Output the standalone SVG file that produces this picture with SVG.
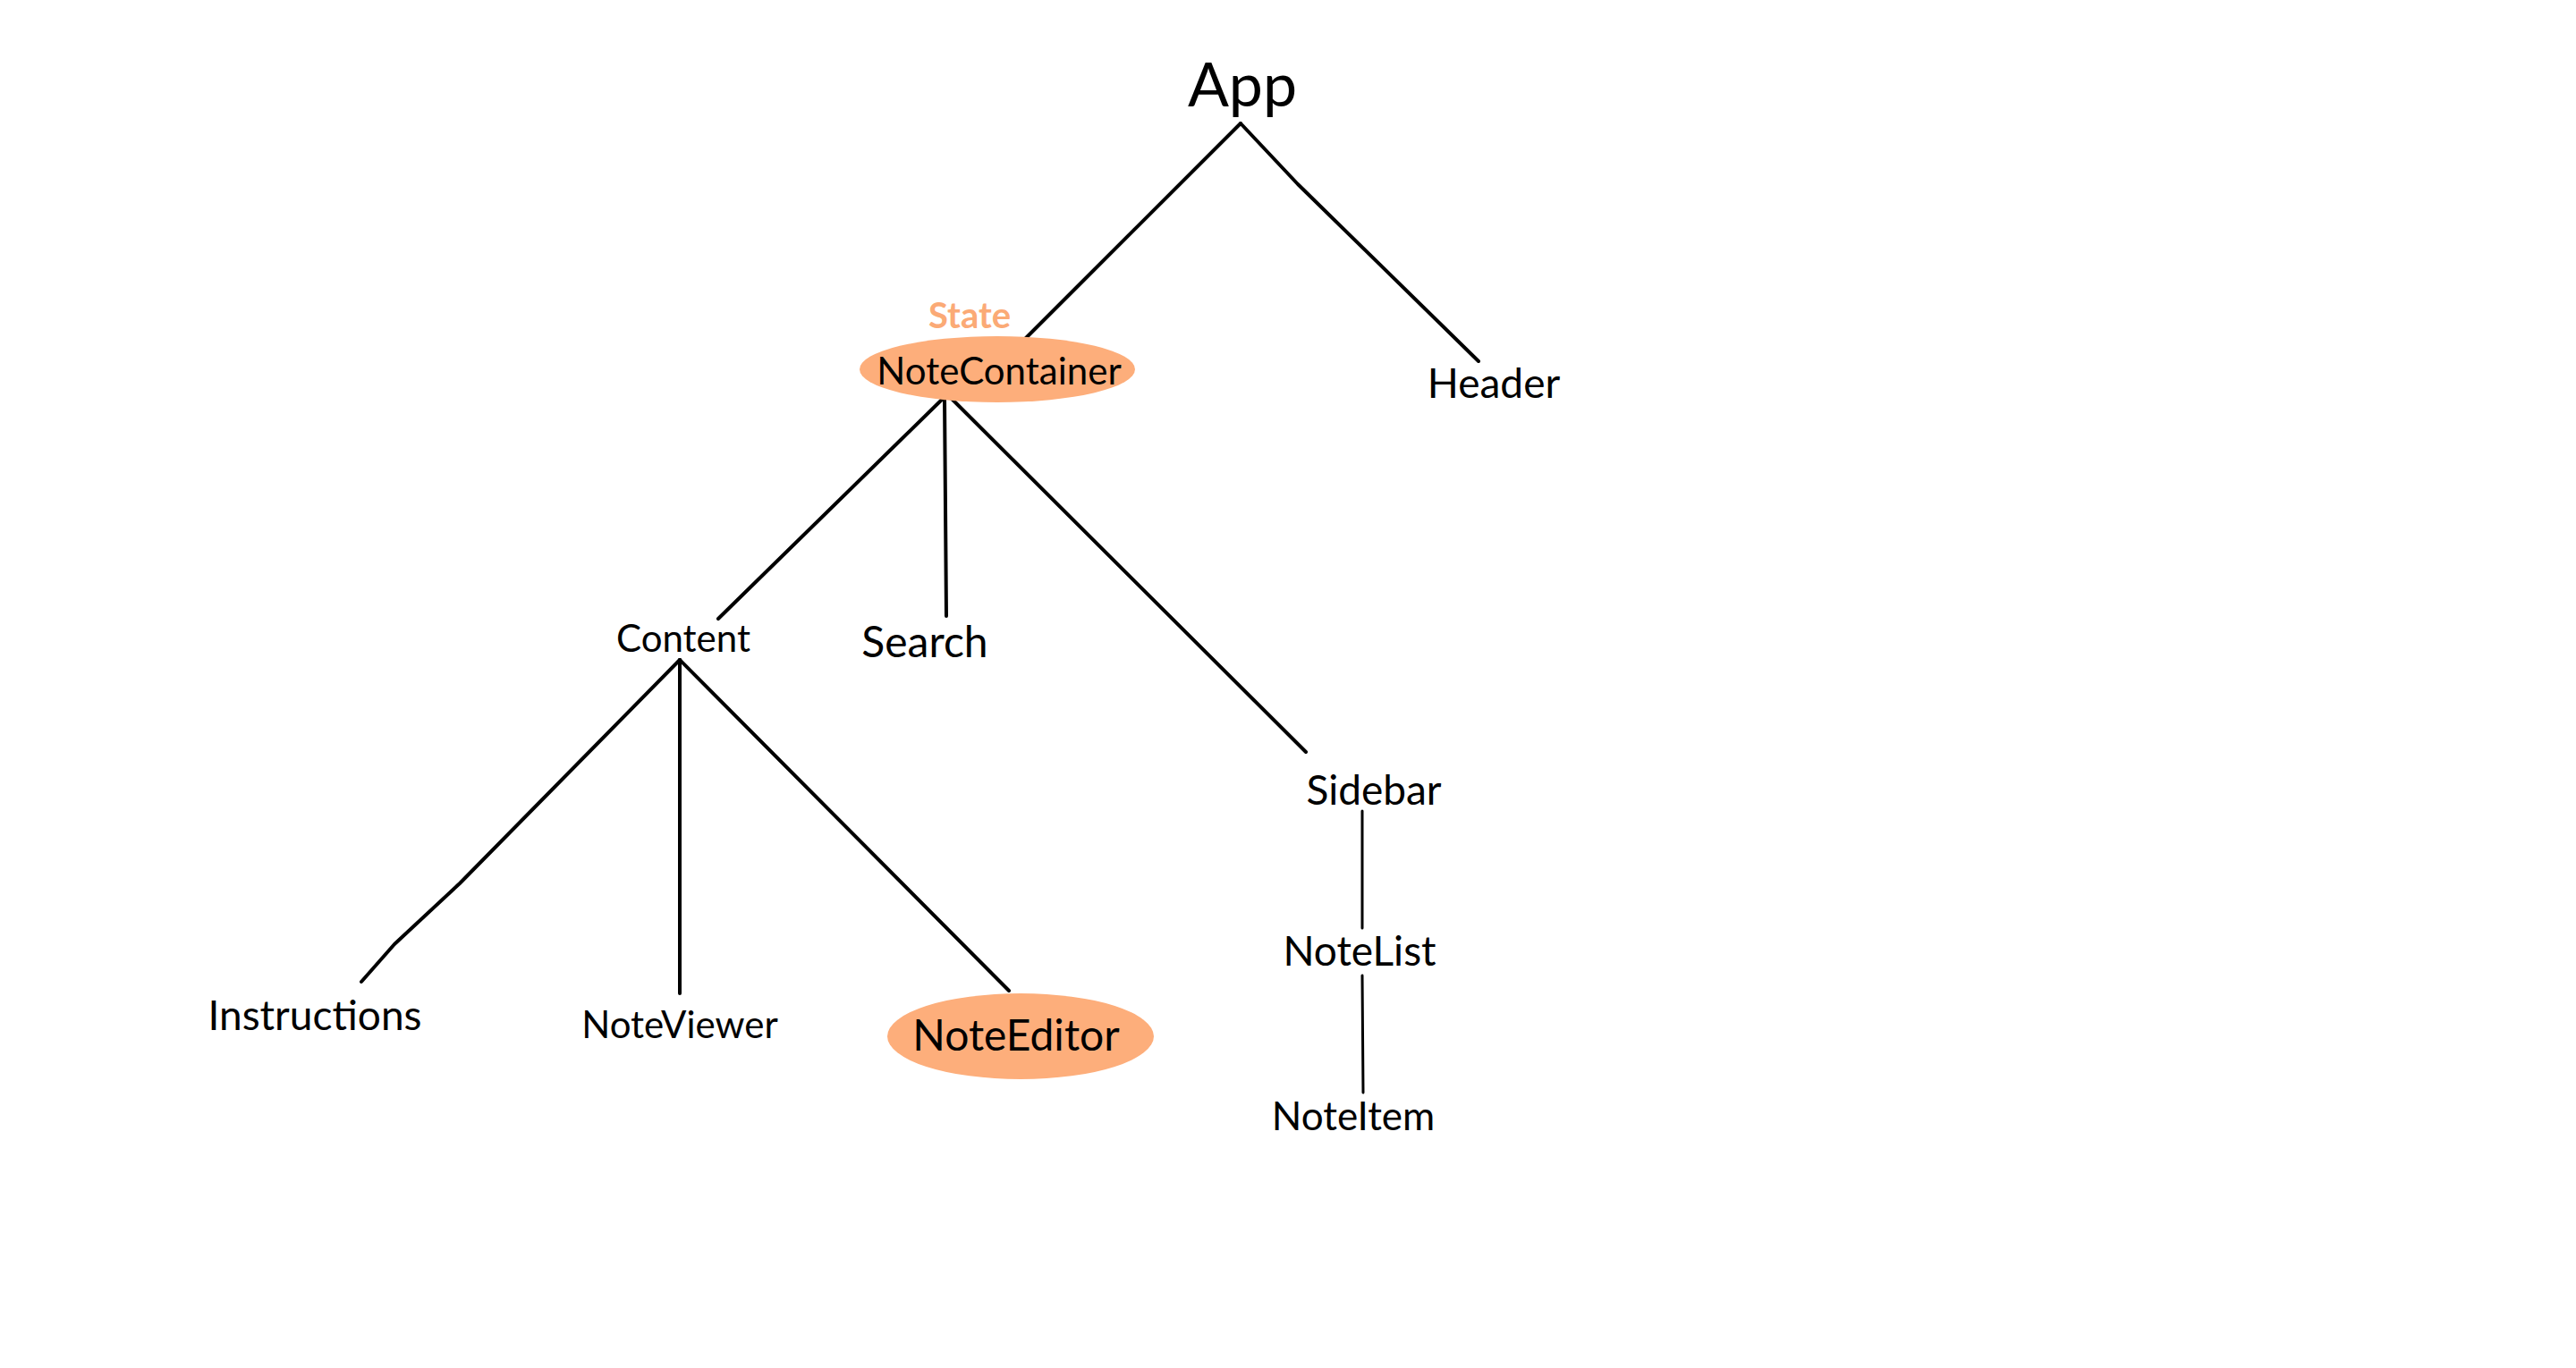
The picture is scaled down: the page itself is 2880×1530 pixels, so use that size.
<svg xmlns="http://www.w3.org/2000/svg" width="2880" height="1530" viewBox="0 0 2880 1530">
<style>
.t{font-family:Lato,"Open Sans","Liberation Sans",sans-serif;fill:#000;text-anchor:middle}
.e{stroke:#000;stroke-width:4;fill:none;stroke-linecap:round;stroke-linejoin:round}
.thin{stroke-width:3}
.hl{fill:#fdae7b}
</style>
<rect width="2880" height="1530" fill="#fff"/>
<g id="connectors">
<path class="e" d="M1387,138 L1212,313 L1137,388"/>
<path class="e" d="M1387,138 L1451,206 L1653,404"/>
<path class="e" d="M1056,444 L1007,492 L803,692"/>
<path class="e" d="M1056,444 L1058,689"/>
<path class="e" d="M1062,444 L1460,841"/>
<path class="e" d="M760,738 L514,988 L441,1056 L404,1098"/>
<path class="e" d="M760,738 L760,1111"/>
<path class="e" d="M760,738 L1128,1108"/>
<path class="e thin" d="M1523,907 L1523,1038"/>
<path class="e thin" d="M1523,1091 L1524,1222"/>
</g>
<g id="app"><text class="t" x="1389" y="119" font-size="68">App</text></g>
<g id="notecontainer">
<ellipse class="hl" cx="1115" cy="413" rx="154" ry="37"/>
<text class="t" x="1084" y="367" font-size="40" font-weight="bold" style="fill:#fbaa76">State</text>
<text class="t" x="1117" y="430" font-size="42">NoteContainer</text>
</g>
<g id="header"><text class="t" x="1670" y="445" font-size="46">Header</text></g>
<g id="content"><text class="t" x="764" y="729" font-size="42">Content</text></g>
<g id="search"><text class="t" x="1034" y="735" font-size="48">Search</text></g>
<g id="sidebar"><text class="t" x="1536" y="900" font-size="46">Sidebar</text></g>
<g id="instructions"><text class="t" x="352" y="1152" font-size="46">Instructions</text></g>
<g id="noteviewer"><text class="t" x="760" y="1161" font-size="42">NoteViewer</text></g>
<g id="noteeditor">
<ellipse class="hl" cx="1141" cy="1159" rx="149" ry="48"/>
<text class="t" x="1136" y="1175" font-size="48">NoteEditor</text>
</g>
<g id="notelist"><text class="t" x="1520" y="1080" font-size="46">NoteList</text></g>
<g id="noteitem"><text class="t" x="1513" y="1264" font-size="44">NoteItem</text></g>
</svg>
